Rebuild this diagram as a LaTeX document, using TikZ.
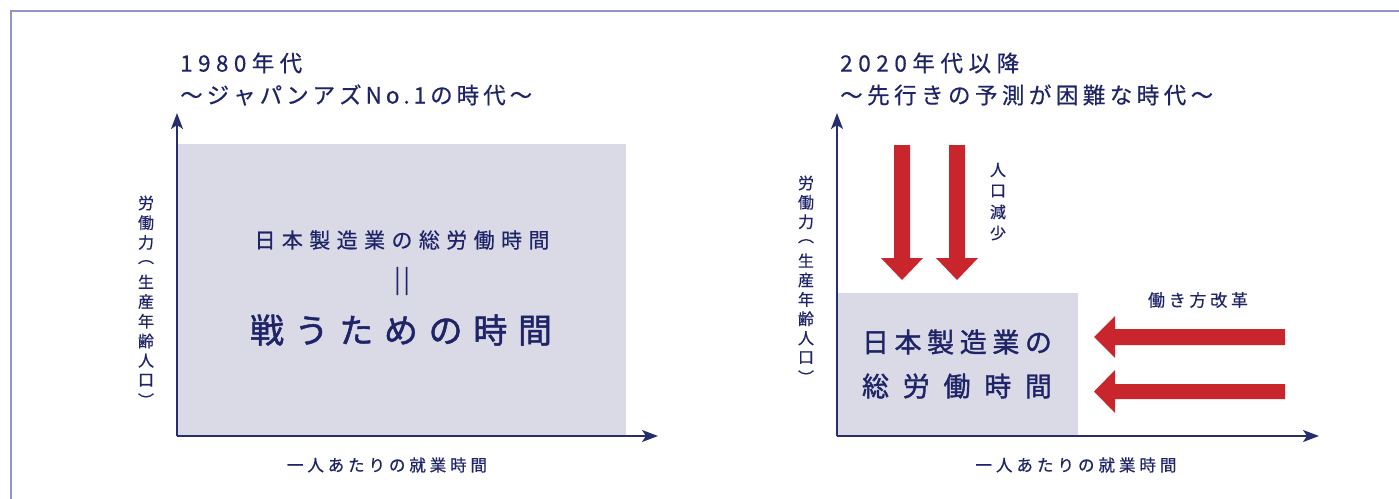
\documentclass[tikz,border=0pt]{standalone}
\usepackage{fontspec}
\usetikzlibrary{arrows.meta}
\newfontfamily\jp[FakeBold=0.5]{Noto Sans CJK JP}
\newfontfamily\jpb[FakeBold=1.4]{Noto Sans CJK JP}
\definecolor{txtc}{HTML}{1E2467}
\definecolor{axisc}{HTML}{262E6E}
\definecolor{framec}{HTML}{9294CA}
\definecolor{boxc}{HTML}{DADAE7}
\definecolor{redc}{HTML}{C9252C}
\makeatletter
\newcommand\spr[2]{\makebox[#1][s]{\let\spr@f\relax\@tfor\spr@c:=#2\do{\ifx\spr@f\relax\let\spr@f\empty\else\hfill\fi\spr@c}}}
\makeatother
\tikzset{
  lbl/.style={inner sep=0pt, text=txtc, font=\jp},
  axisline/.style={draw=axisc, line width=2pt, -{Stealth[length=16pt,width=12pt,inset=4pt]}},
  areabox/.style={fill=boxc},
  bigarrow/.style={fill=redc},
  framel/.style={draw=framec, line width=2pt},
}
\begin{document}
\begin{tikzpicture}[x=1pt,y=-1pt]
\useasboundingbox (0,0) rectangle (1399,498);
% frame
\draw[framel] (11,500) -- (11,11) -- (1400,11);

% ---------- left chart ----------
\node[lbl, anchor=west, font=\jp\fontsize{22.5}{24}\selectfont] (t1a) at (180,63) {\spr{122pt}{1980年代}};
\node[lbl, anchor=west, font=\jp\fontsize{22.5}{24}\selectfont] (t1b) at (180,95) {\spr{352pt}{〜ジャパンアズNo.1の時代〜}};
\fill[areabox] (177,144) rectangle (626,436);
\coordinate (o1) at (177,436);
\coordinate (y1) at (177,113);
\coordinate (x1) at (658,436);
\draw[axisline] (o1) -- (y1);
\draw[axisline] (o1) -- (x1);
\node[lbl, font=\jp\fontsize{21}{22}\selectfont] (b1a) at (402,240) {\spr{295pt}{日本製造業の総労働時間}};
\node[lbl, font=\jp\fontsize{25}{26}\selectfont] (b1b) at (402,281) {\spr{16pt}{||}};
\node[lbl, font=\jpb\fontsize{34}{36}\selectfont] (b1c) at (401,330) {\spr{302pt}{戦うための時間}};
\foreach \c [count=\i] in {労,働,力,︵,生,産,年,齢,人,口,︶}
  \node[lbl, font=\jp\fontsize{16}{17}\selectfont] (yla\i) at (146,{203+(\i-1)*19.7}) {\c};
\node[lbl, font=\jp\fontsize{16.5}{17}\selectfont] (xla) at (387,465) {\spr{200pt}{一人あたりの就業時間}};

% ---------- right chart ----------
\node[lbl, anchor=west, font=\jp\fontsize{22.5}{24}\selectfont] (t2a) at (840,63) {\spr{179pt}{2020年代以降}};
\node[lbl, anchor=west, font=\jp\fontsize{22.5}{24}\selectfont] (t2b) at (840,95) {\spr{373pt}{〜先行きの予測が困難な時代〜}};
\fill[areabox] (837,293) rectangle (1078,436);
\coordinate (o2) at (837,436);
\coordinate (y2) at (837,113);
\coordinate (x2) at (1319,436);
\draw[axisline] (o2) -- (y2);
\draw[axisline] (o2) -- (x2);
\node[lbl, font=\jpb\fontsize{27}{28}\selectfont] (b2a) at (957,342) {\spr{190pt}{日本製造業の}};
\node[lbl, font=\jpb\fontsize{27}{28}\selectfont] (b2b) at (957,386) {\spr{190pt}{総労働時間}};
\foreach \c [count=\i] in {労,働,力,︵,生,産,年,齢,人,口,︶}
  \node[lbl, font=\jp\fontsize{16}{17}\selectfont] (ylb\i) at (806,{183+(\i-1)*19.4}) {\c};
\node[lbl, font=\jp\fontsize{16.5}{17}\selectfont] (xlb) at (1076,465) {\spr{201pt}{一人あたりの就業時間}};

% red arrows: population decrease
\fill[bigarrow] (894,145) -- (910,145) -- (910,258) -- (923,258) -- (902,280) -- (881,258) -- (894,258) -- cycle;
\fill[bigarrow] (949,145) -- (965,145) -- (965,258) -- (978,258) -- (957,280) -- (936,258) -- (949,258) -- cycle;
\foreach \c [count=\i] in {人,口,減,少}
  \node[lbl, font=\jp\fontsize{16}{17}\selectfont] (pd\i) at (998,{170+(\i-1)*21}) {\c};

% red arrows: work style reform
\node[lbl, font=\jp\fontsize{17}{18}\selectfont] (wr) at (1198,300) {\spr{100pt}{働き方改革}};
\fill[bigarrow] (1285,329) -- (1285,345) -- (1115,345) -- (1115,358) -- (1094,337) -- (1115,316) -- (1115,329) -- cycle;
\fill[bigarrow] (1285,384) -- (1285,399) -- (1115,399) -- (1115,413) -- (1094,391.5) -- (1115,370) -- (1115,384) -- cycle;
\end{tikzpicture}
\end{document}
